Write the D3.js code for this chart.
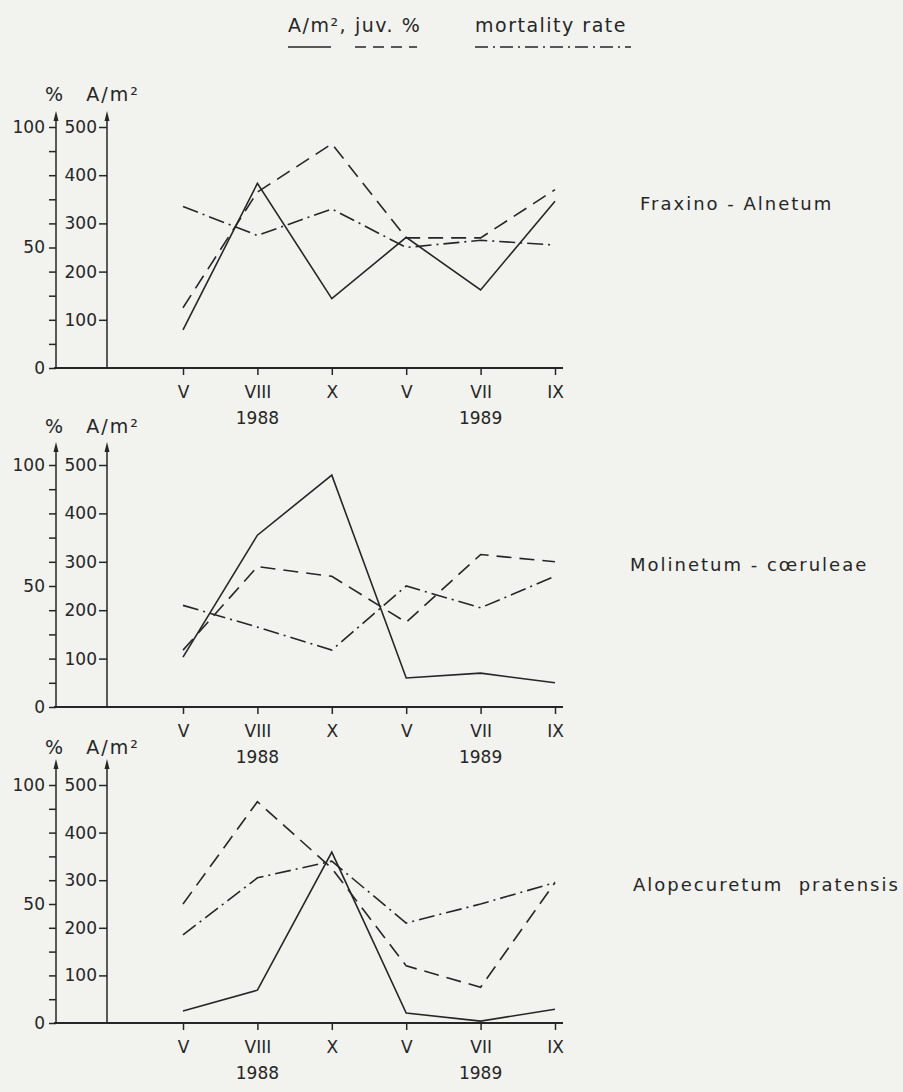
<!DOCTYPE html>
<html>
<head>
<meta charset="utf-8">
<script src="https://cdn.jsdelivr.net/npm/d3@7"></script>
<style>
  body { margin: 0; background: #f2f2ef; }
  svg { display: block; }
</style>
</head>
<body>
<div id="graphic"></div>
<script>
// sampling dates, two seasons
const months = ["V", "VIII", "X", "V", "VII", "IX"];
const yearLabels = ["1988", "1989"];
const yearAt = [1, 4];

const habitats = ["Fraxino - Alnetum", "Molinetum - cœruleae", "Alopecuretum  pratensis"];

// A/m² (solid)
const density = [
    [79, 383, 144, 271, 162, 346],
    [103, 355, 479, 60, 70, 50],
    [25, 69, 359, 21, 4, 29]
];
// juv. % (dashed)
const juvenile = [
    [25, 73, 93, 54, 54, 74],
    [23.5, 58, 54, 35, 63, 60],
    [50, 93, 65, 24, 15, 59]
];
// mortality rate % (dash-dot)
const mortality = [
    [67, 55, 66, 50, 53, 51],
    [42, 33, 23.5, 50, 41, 54],
    [37, 61, 68, 42, 50, 59]
];

const densityTicks = [100, 200, 300, 400, 500];
const percentTicks = [0, 10, 20, 30, 40, 50, 60, 70, 80, 90, 100];
const percentLabels = [0, 50, 100];

const width = 903, height = 1092;
const ink = "#262626";
const font = "'DejaVu Sans', sans-serif";

// base = zero line, top = 500 / 100%, tip = arrow head
const panels = [
    { base: 368, top: 127, tip: 111, title: 101, label: [640, 210] },
    { base: 707, top: 465, tip: 442, title: 433, label: [630, 571] },
    { base: 1023, top: 785, tip: 759, title: 754, label: [633, 891] }
];

const dashed = "15,8";
const dashDot = "16,5,2,5";

const svg = d3.create("svg")
    .attr("width", width)
    .attr("height", height)
    .attr("viewBox", [0, 0, width, height])
    .style("font-family", font);

svg.append("rect")
    .attr("width", width).attr("height", height)
    .attr("fill", "#f2f2ef");

// LEGEND
const legend = svg.append("g")
    .attr("fill", ink)
    .style("font-size", "19px")
    .style("letter-spacing", "1.5px");

const legendItems = [
    { text: "A/m²,", x: 288, w: 43, dash: null },
    { text: "juv. %", x: 355, w: 62, dash: "11,7" },
    { text: "mortality rate", x: 475, w: 156, dash: "13,5,2,5" }
];

legendItems.forEach(it => {
    legend.append("text")
        .attr("x", it.x).attr("y", 32)
        .text(it.text);
    legend.append("line")
        .attr("x1", it.x).attr("x2", it.x + it.w)
        .attr("y1", 47).attr("y2", 47)
        .attr("stroke", ink)
        .attr("stroke-width", 1.6)
        .attr("stroke-dasharray", it.dash);
});

const x = d3.scaleLinear().domain([0, 5]).range([183, 555]);

function arrow(g, ax, tip) {
    g.append("path")
        .attr("d", `M${ax},${tip} L${ax - 2.5},${tip + 10} L${ax + 2.5},${tip + 10} Z`)
        .attr("fill", ink);
}

panels.forEach((p, i) => {
    const g = svg.append("g").attr("color", ink);

    const yA = d3.scaleLinear().domain([0, 500]).range([p.base, p.top]);
    const yP = d3.scaleLinear().domain([0, 100]).range([p.base, p.top]);

    // zero line
    g.append("line")
        .attr("x1", 54).attr("x2", 563)
        .attr("y1", p.base).attr("y2", p.base)
        .attr("stroke", ink).attr("stroke-width", 1.8);

    // vertical axes with arrows
    [56, 107].forEach(ax => {
        g.append("line")
            .attr("x1", ax).attr("x2", ax)
            .attr("y1", p.base).attr("y2", p.tip + 4)
            .attr("stroke", ink).attr("stroke-width", 1.5);
        arrow(g, ax, p.tip);
    });

    const pctAxis = g.append("g")
        .attr("transform", "translate(56,0)")
        .call(d3.axisLeft(yP)
            .tickValues(percentTicks)
            .tickSize(7)
            .tickPadding(4)
            .tickFormat(d => percentLabels.includes(d) ? d : ""));

    const denAxis = g.append("g")
        .attr("transform", "translate(107,0)")
        .call(d3.axisLeft(yA)
            .tickValues(densityTicks)
            .tickSize(8)
            .tickPadding(2));

    const monAxis = g.append("g")
        .attr("transform", `translate(0,${p.base})`)
        .call(d3.axisBottom(x)
            .tickValues(d3.range(months.length))
            .tickSize(7)
            .tickPadding(11)
            .tickFormat(j => months[j]));

    [pctAxis, denAxis, monAxis].forEach(a => {
        a.select(".domain").remove();
        a.attr("font-size", null).attr("font-family", null);
        a.selectAll("line").attr("stroke-width", 1.5);
        a.selectAll("text").style("font-size", "17px");
    });

    g.selectAll(".year")
        .data(yearLabels)
        .join("text")
        .attr("class", "year")
        .attr("x", (d, k) => x(yearAt[k]))
        .attr("y", p.base + 56)
        .attr("text-anchor", "middle")
        .attr("fill", ink)
        .style("font-size", "17px")
        .text(d => d);

    // axis titles
    g.append("text")
        .attr("x", 54).attr("y", p.title)
        .attr("text-anchor", "middle")
        .attr("fill", ink)
        .style("font-size", "19px")
        .text("%");
    g.append("text")
        .attr("x", 113).attr("y", p.title)
        .attr("text-anchor", "middle")
        .attr("fill", ink)
        .style("font-size", "19px")
        .style("letter-spacing", "2px")
        .text("A/m²");

    // habitat name
    g.append("text")
        .attr("x", p.label[0]).attr("y", p.label[1])
        .attr("fill", ink)
        .attr("xml:space", "preserve")
        .style("font-size", "18px")
        .style("letter-spacing", "2px")
        .text(habitats[i]);

    const lineA = d3.line().x((d, j) => x(j)).y(d => yA(d));
    const lineP = d3.line().x((d, j) => x(j)).y(d => yP(d));

    const series = [
        { values: density[i], gen: lineA, dash: null },
        { values: juvenile[i], gen: lineP, dash: dashed },
        { values: mortality[i], gen: lineP, dash: dashDot }
    ];

    g.append("g")
        .selectAll("path")
        .data(series)
        .join("path")
        .attr("d", d => d.gen(d.values))
        .attr("fill", "none")
        .attr("stroke", ink)
        .attr("stroke-width", 1.6)
        .attr("stroke-linejoin", "miter")
        .attr("stroke-dasharray", d => d.dash);
});

document.getElementById("graphic").append(svg.node());
</script>
</body>
</html>
